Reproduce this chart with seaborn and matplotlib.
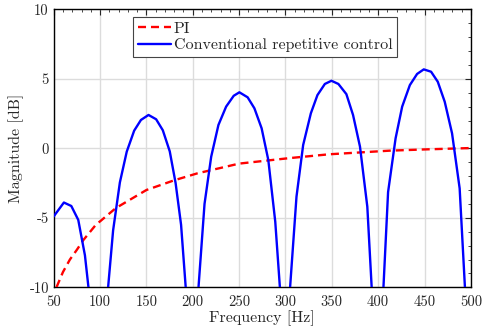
import matplotlib
matplotlib.use("Agg")
import matplotlib.pyplot as plt
import seaborn as sns
import pandas as pd
from matplotlib.ticker import MultipleLocator

# PI magnitude response
pi_freq = [53, 60, 67.5, 75, 82, 95.5, 101, 117, 150, 180, 205, 250, 305, 347, 412, 450, 500]
pi_mag = [-10, -8.9, -8.0, -7.3, -6.6, -5.5, -5.2, -4.3, -3.0, -2.3, -1.8, -1.1, -0.7, -0.43, -0.17, -0.08, 0.02]

# conventional repetitive control, one run per arch (clipped at -10 dB)
rc_freq = [
    [50, 61, 69, 76.5, 83.7, 87.5],
    [108.7, 114.1, 121.4, 128.8, 136.8, 144.1, 152.3, 160.5, 167.7, 175.2, 181.5, 187.4, 192.4],
    [206.2, 212.7, 219.9, 227.7, 236, 244.2, 250.3, 259.2, 266.5, 274.3, 281.5, 289, 294],
    [305, 311.9, 319.1, 327.4, 334.5, 342.5, 349.6, 357.1, 365.7, 372.9, 380.4, 388.3, 393],
    [405.7, 410.7, 418.8, 425.9, 434.2, 442, 449.2, 457.1, 464.3, 471.8, 479.7, 487.9, 493.6],
]
rc_mag = [
    [-4.9, -3.9, -4.15, -5.15, -7.7, -10],
    [-10, -5.9, -2.45, -0.24, 1.27, 2.04, 2.4, 2.09, 1.3, -0.22, -2.5, -5.5, -10],
    [-10, -4.0, -0.6, 1.68, 3.0, 3.78, 4.03, 3.67, 2.88, 1.44, -0.84, -5.28, -10],
    [-10, -3.48, 0.24, 2.52, 3.83, 4.63, 4.86, 4.63, 3.9, 2.4, 0.12, -4.2, -10],
    [-10, -3.15, 0.72, 3.0, 4.55, 5.35, 5.68, 5.51, 4.79, 3.35, 1.08, -2.88, -10],
]

sns.set_style("white")
plt.rcParams["font.family"] = ["cmr10", "DejaVu Serif"]
plt.rcParams["axes.unicode_minus"] = False

fig = plt.figure(figsize=(4.82, 3.33), dpi=100)
ax = fig.add_axes([0.1114, 0.1372, 0.8655, 0.8348])

pi_df = pd.DataFrame({"f": pi_freq, "m": pi_mag})
sns.lineplot(data=pi_df, x="f", y="m", ax=ax, color="red", linestyle=(0, (3.4, 2.1)),
             linewidth=1.7, sort=False, label="PI", zorder=3)

for i, (f, m) in enumerate(zip(rc_freq, rc_mag)):
    df = pd.DataFrame({"f": f, "m": m})
    sns.lineplot(data=df, x="f", y="m", ax=ax, color="blue", linewidth=1.7, sort=False,
                 label="Conventional repetitive control" if i == 0 else None, zorder=4)

ax.set_xlim(50, 500)
ax.set_ylim(-10, 10)
ax.xaxis.set_major_locator(MultipleLocator(50))
ax.xaxis.set_minor_locator(MultipleLocator(10))
ax.yaxis.set_major_locator(MultipleLocator(5))
ax.yaxis.set_minor_locator(MultipleLocator(1))
ax.grid(True, which="major", color="#dcdcdc", linewidth=1)
ax.tick_params(which="both", direction="in", top=True, right=True, labelsize=10.5)
ax.tick_params(axis="x", pad=6)
ax.tick_params(axis="y", pad=3.5)
ax.tick_params(which="major", length=4, width=0.8)
ax.tick_params(which="minor", length=2, width=0.6)
for s in ax.spines.values():
    s.set_color("black")
    s.set_linewidth(1)

ax.set_xlabel("Frequency [Hz]", fontsize=11.5, labelpad=1)
ax.set_ylabel("Magnitude [dB]", fontsize=11.5, labelpad=4)

leg = ax.legend(loc="upper left", bbox_to_anchor=(0.19, 0.973), borderaxespad=0,
                fontsize=11.5, fancybox=False, framealpha=1, edgecolor="#444444",
                handlelength=2.1, handletextpad=0.15, borderpad=0.3, labelspacing=0.15)
leg.get_frame().set_linewidth(0.8)

fig.savefig("out.png", dpi=100)
